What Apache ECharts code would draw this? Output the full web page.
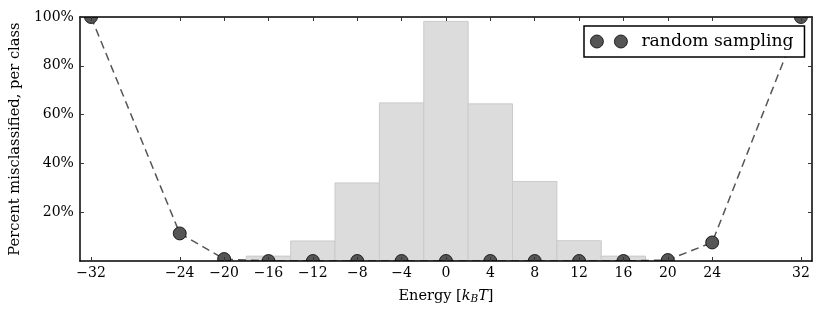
<!DOCTYPE html>
<html>
<head>
<meta charset="utf-8">
<script src="https://cdn.jsdelivr.net/npm/echarts@6/dist/echarts.min.js"></script>
<style>html,body{margin:0;padding:0;background:#fff;}#c{width:822px;height:315px;}</style>
</head>
<body>
<div id="c"></div>
<script>
// Histogram of class populations (bin centers, percent)
const binCenters = [-16, -12, -8, -4, 0, 4, 8, 12, 16];
const binValues = [2.0, 8.2, 32.0, 64.8, 98.2, 64.4, 32.6, 8.3, 2.0];
const binWidth = 4;

// Random sampling misclassification per class
const sampleEnergy = [-32, -24, -20, -16, -12, -8, -4, 0, 4, 8, 12, 16, 20, 24, 32];
const sampleMisclassified = [100, 11.3, 0.8, 0, 0, 0, 0, 0, 0, 0, 0, 0, 0.4, 7.6, 100];

// Tick labels
const xTicks = [-32, -24, -20, -16, -12, -8, -4, 0, 4, 8, 12, 16, 20, 24, 32];
const yTicks = [20, 40, 60, 80, 100];

const FONT = 'DejaVu Serif';
const chart = echarts.init(document.getElementById('c'), null, {renderer: 'canvas'});

const tickStyle = {show: true, inside: true, length: 4, lineStyle: {color: '#333', width: 1}};

const option = {
  animation: false,
  backgroundColor: '#fff',
  grid: {left: 79, right: 10, top: 17, bottom: 54, show: false},
  xAxis: [
    {
      type: 'value', min: -33, max: 33, position: 'bottom', z: 60,
      axisLine: {show: true, onZero: false, lineStyle: {color: '#000', width: 1.5}},
      axisTick: Object.assign({}, tickStyle, {customValues: xTicks}),
      axisLabel: {
        customValues: xTicks, margin: 5, color: '#000', fontFamily: FONT, fontSize: 14,
        formatter: v => String(v).replace('-', '\u2212')
      },
      splitLine: {show: false},
      name: 'Energy [{i|k}{sub|B}{i|T}]',
      nameLocation: 'middle', nameGap: 27,
      nameTextStyle: {
        color: '#000', fontFamily: FONT, fontSize: 14.5,
        rich: {
          i: {fontFamily: FONT, fontStyle: 'italic', fontSize: 14.5, color: '#000'},
          sub: {fontFamily: FONT, fontStyle: 'italic', fontSize: 10.5, color: '#000', padding: [6, 0, 0, 0]}
        }
      }
    },
    {
      type: 'value', min: -33, max: 33, position: 'top', z: 60,
      axisLine: {show: true, onZero: false, lineStyle: {color: '#000', width: 1.5}},
      axisTick: Object.assign({}, tickStyle, {customValues: xTicks}),
      axisLabel: {show: false},
      splitLine: {show: false}
    }
  ],
  yAxis: [
    {
      type: 'value', min: 0, max: 100, position: 'left', z: 60,
      axisLine: {show: true, onZero: false, lineStyle: {color: '#000', width: 1.5}},
      axisTick: Object.assign({}, tickStyle, {customValues: yTicks}),
      axisLabel: {
        customValues: yTicks, margin: 6, color: '#000', fontFamily: FONT, fontSize: 14,
        formatter: v => v + '%'
      },
      splitLine: {show: false},
      name: 'Percent misclassified, per class',
      nameLocation: 'middle', nameGap: 54,
      nameTextStyle: {color: '#000', fontFamily: FONT, fontSize: 14.7}
    },
    {
      type: 'value', min: 0, max: 100, position: 'right', z: 60,
      axisLine: {show: true, onZero: false, lineStyle: {color: '#000', width: 1.5}},
      axisTick: Object.assign({}, tickStyle, {customValues: yTicks}),
      axisLabel: {show: false},
      splitLine: {show: false}
    }
  ],
  legend: {
    show: true,
    left: 584, top: 26, z: 70,
    padding: [7, 11, 7, 6],
    borderColor: '#000', borderWidth: 1.5, borderRadius: 0,
    backgroundColor: '#fff',
    itemWidth: 37, itemHeight: 13,
    icon: 'path://M0,6.5a6.5,6.5 0 1,0 13,0a6.5,6.5 0 1,0 -13,0Z M24,6.5a6.5,6.5 0 1,0 13,0a6.5,6.5 0 1,0 -13,0Z',
    itemStyle: {color: '#555', borderColor: '#000', borderWidth: 0.8},
    textStyle: {color: '#000', fontFamily: FONT, fontSize: 17.2, padding: [0, 0, 0, 9]},
    data: ['random sampling']
  },
  series: [
    {
      name: 'histogram',
      type: 'custom',
      xAxisIndex: 0, yAxisIndex: 0,
      z: 1,
      data: binCenters.map((c, i) => [c, binValues[i]]),
      renderItem: function (params, api) {
        const c = api.value(0), v = api.value(1);
        const p0 = api.coord([c - binWidth / 2, v]);
        const p1 = api.coord([c + binWidth / 2, 0]);
        return {
          type: 'rect',
          shape: {x: p0[0], y: p0[1], width: p1[0] - p0[0], height: p1[1] - p0[1]},
          style: {fill: '#dcdcdc', stroke: '#cacaca', lineWidth: 1}
        };
      }
    },
    {
      name: 'random sampling',
      type: 'line',
      xAxisIndex: 0, yAxisIndex: 0,
      z: 3,
      clip: false,
      data: sampleEnergy.map((e, i) => [e, sampleMisclassified[i]]),
      symbol: 'circle', symbolSize: 13, showAllSymbol: true,
      itemStyle: {color: '#555', borderColor: '#000', borderWidth: 0.8},
      lineStyle: {color: '#555', width: 1.5, type: [8, 5]}
    },
    {
      // white mask outside the plotting area, so markers are clipped like the original
      name: 'mask',
      type: 'custom',
      xAxisIndex: 0, yAxisIndex: 0,
      z: 10,
      silent: true,
      clip: false,
      data: [[0, 0]],
      renderItem: function (params, api) {
        const cs = params.coordSys;
        const W = api.getWidth(), H = api.getHeight();
        return {
          type: 'group',
          children: [
            {type: 'rect', shape: {x: 0, y: 0, width: W, height: cs.y}, style: {fill: '#fff'}},
            {type: 'rect', shape: {x: 0, y: cs.y + cs.height, width: W, height: H - cs.y - cs.height}, style: {fill: '#fff'}}
          ]
        };
      }
    }
  ]
};
chart.setOption(option);
</script>
</body>
</html>
